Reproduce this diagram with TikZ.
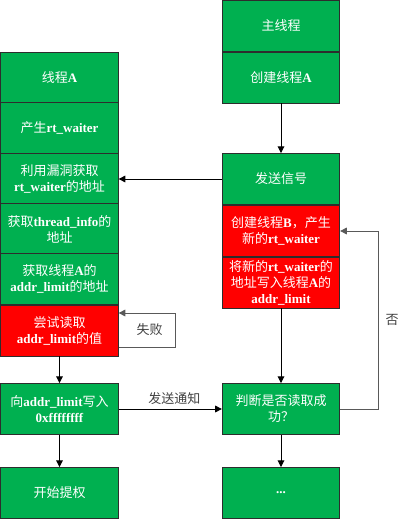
\documentclass[tikz,border=0pt]{standalone}
\usepackage{fontspec}
\setmainfont{Liberation Serif}
\newfontfamily\cjk{Noto Sans CJK SC}
\usetikzlibrary{positioning, calc, arrows.meta}
\definecolor{okgreen}{RGB}{0,176,80}
\definecolor{errred}{RGB}{255,0,0}
\definecolor{edgec}{RGB}{45,45,45}
\newcommand{\en}[1]{{\rmfamily\bfseries #1}}

\tikzset{
  blk/.style={draw=edgec, line width=0.7pt, fill=okgreen, text=white,
    minimum width=88pt, minimum height=38.25pt, inner sep=1pt, align=center,
    font=\cjk\fontsize{9.75}{12}\selectfont},
  redblk/.style={blk, fill=errred},
  link/.style={-{Triangle[length=5pt,width=5pt]}, line width=0.7pt, black},
  back/.style={link, draw=black!65},
  tag/.style={text=black!75, font=\cjk\fontsize{9.75}{12}\selectfont}
}

\begin{document}
\begin{tikzpicture}[x=0.75pt, y=-0.75pt]
\useasboundingbox (0,0) rectangle (399,520);

%% ── thread A column ──────────────────────────────────────────────
\node[blk] (thA)   at (59.5,77.5)  {线程\en{A}};
\node[blk] (mkw)   at (59.5,128)   {产生\en{rt\_waiter}};
\node[blk] (leak)  at (59.5,179)   {利用漏洞获取\\\en{rt\_waiter}的地址};
\node[blk] (tinfo) at (59.5,229)   {获取\en{thread\_info}的\\地址};
\node[blk] (alim)  at (59.5,279)   {获取线程\en{A}的\\\en{addr\_limit}的地址};
\node[redblk] (tryrd) at (59.5,330.5) {尝试读取\\\en{addr\_limit}的值};
\node[blk] (wrlim) at (59.5,409)   {向\en{addr\_limit}写入\\\en{0xffffffff}};
\node[blk] (priv)  at (59.5,493)   {开始提权};

%% ── main thread column ───────────────────────────────────────────
\node[blk] (mainth) at (281,26)    {主线程};
\node[blk] (mkA)    at (281,77.5)  {创建线程\en{A}};
\node[blk] (sig)    at (281,179)   {发送信号};
\node[redblk] (mkB) at (281,231)   {创建线程\en{B}，产生\\新的\en{rt\_waiter}};
\node[redblk] (wrB) at (281,282.5) {将新的\en{rt\_waiter}的\\地址写入线程\en{A}的\\\en{addr\_limit}};
\node[blk] (judge)  at (281,409)   {判断是否读取成\\功？};
\node[blk] (more)   at (281,493)   {\en{...}};

%% ── connectors ───────────────────────────────────────────────────
\draw[link] (mkA) -- (sig);
\draw[link] (sig) -- (leak);
\draw[link] (tryrd) -- (wrlim);
\draw[link] (wrlim) -- (priv);
\draw[link] (wrlim) -- node[tag, above, pos=0.54] {发送通知} (judge);
\draw[link] (wrB) -- (judge);
\draw[link] (judge) -- (more);

% retry loops
\draw[back] ($(tryrd.east)+(0,16.5)$) -- ++(57,0)
  |- node[tag, pos=0.25, left=6pt] {失败} ($(tryrd.east)+(0,-17.5)$);
\draw[back] (judge.east) -- ++(38,0)
  |- node[tag, pos=0.25, right=2pt] {否} (mkB.east);

\end{tikzpicture}
\end{document}
